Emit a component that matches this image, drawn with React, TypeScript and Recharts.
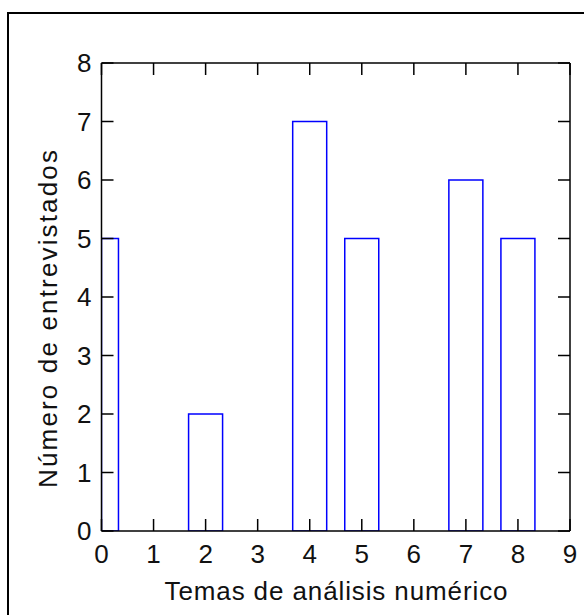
import { ComposedChart, Bar, XAxis, YAxis } from 'recharts';

// temas (eje x) y número de entrevistados por tema
const temas = [0, 1, 2, 3, 4, 5, 6, 7, 8];
const entrevistados = [5, 0, 2, 0, 7, 5, 0, 6, 5];
const xTicks = [0, 1, 2, 3, 4, 5, 6, 7, 8, 9];
const yTicks = [0, 1, 2, 3, 4, 5, 6, 7, 8];
const X_DOMAIN: [number, number] = [0, 9];
const Y_DOMAIN: [number, number] = [0, 8];

const data = temas.map((t, i) => ({ tema: t, n: entrevistados[i] }));

const FONT = '"Liberation Sans", Arial, sans-serif';
const TICK_LEN = 12;
const AXIS = '#000';
const tickText = { fill: '#111', fontSize: 26, fontFamily: FONT };
const axisLine = { stroke: AXIS, strokeWidth: 1.5 };
const tickLine = { stroke: AXIS, strokeWidth: 1.5 };
const noLabel = () => '';

// la barra en el borde del dominio se recorta a la mitad
const BarShape = (props: any) => {
  const { x, y, width, height, payload } = props;
  if (!height) return null;
  let left = x;
  let w = width;
  if (payload.tema <= X_DOMAIN[0]) {
    left = x + width / 2;
    w = width / 2;
  }
  return <rect x={left} y={y} width={w} height={height} fill="none" stroke="#0000ff" strokeWidth={1.5} />;
};

export default function App() {
  return (
    <div style={{ position: 'absolute', left: 0, top: 0, width: 584, height: 615, background: '#fff', overflow: 'hidden' }}>
      <div style={{ position: 'absolute', left: 7, top: 12, width: 600, height: 620, borderLeft: '2px solid #000', borderTop: '2px solid #000' }} />
      <ComposedChart
        width={584}
        height={615}
        data={data}
        margin={{ top: 62, right: 13, left: 0, bottom: 0 }}
        style={{ position: 'absolute', left: 0, top: 0 }}
      >
        <XAxis
          dataKey="tema"
          type="number"
          domain={X_DOMAIN}
          ticks={xTicks}
          allowDataOverflow
          height={84}
          interval={0}
          axisLine={axisLine}
          tickLine={tickLine}
          tickSize={-TICK_LEN}
          tickMargin={TICK_LEN + 14}
          tick={tickText}
        />
        <XAxis
          xAxisId="top"
          orientation="top"
          dataKey="tema"
          type="number"
          domain={X_DOMAIN}
          ticks={xTicks}
          allowDataOverflow
          height={1}
          interval={0}
          axisLine={axisLine}
          tickLine={tickLine}
          tickSize={-TICK_LEN}
          tickFormatter={noLabel}
        />
        <YAxis
          type="number"
          domain={Y_DOMAIN}
          ticks={yTicks}
          allowDataOverflow
          width={101.5}
          interval={0}
          axisLine={axisLine}
          tickLine={tickLine}
          tickSize={-TICK_LEN}
          tickMargin={TICK_LEN + 10}
          tick={tickText}
        />
        <YAxis
          yAxisId="right"
          orientation="right"
          type="number"
          domain={Y_DOMAIN}
          ticks={yTicks}
          allowDataOverflow
          width={1}
          interval={0}
          axisLine={axisLine}
          tickLine={tickLine}
          tickSize={-TICK_LEN}
          tickFormatter={noLabel}
        />
        <Bar dataKey="n" barSize={34} shape={<BarShape />} isAnimationActive={false} />
        {/* serie invisible para que se dibujen los ejes superior y derecho */}
        <Bar xAxisId="top" yAxisId="right" dataKey="n" barSize={34} fill="none" stroke="none" isAnimationActive={false} />
      </ComposedChart>
      <svg width={584} height={615} style={{ position: 'absolute', left: 0, top: 0, pointerEvents: 'none' }}>
        <text x={336} y={600} textAnchor="middle" fontFamily={FONT} fontSize={26} fill="#111" textLength={343} lengthAdjust="spacing">
          Temas de análisis numérico
        </text>
        <text x={57} y={319} transform="rotate(-90 57 319)" textAnchor="middle" fontFamily={FONT} fontSize={26} fill="#111" textLength={338} lengthAdjust="spacing">
          Número de entrevistados
        </text>
      </svg>
    </div>
  );
}
